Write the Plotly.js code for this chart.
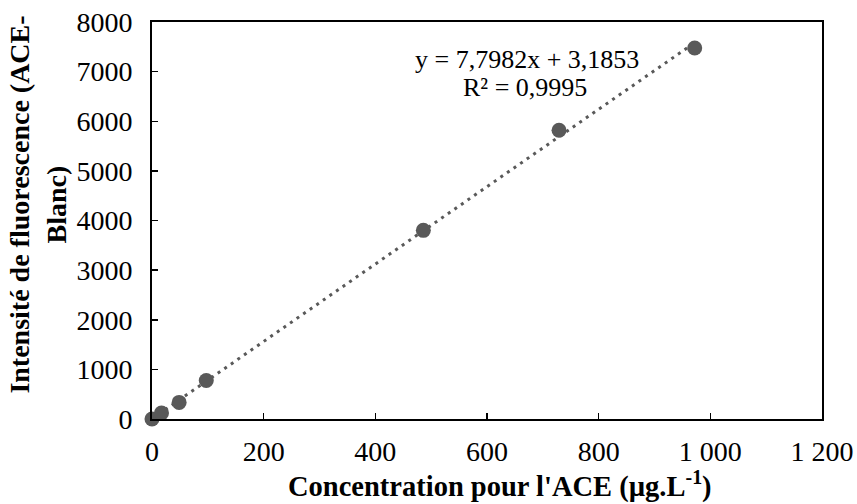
<!DOCTYPE html>
<html>
<head>
<meta charset="utf-8">
<script src="https://cdn.plot.ly/plotly-3.0.1.min.js"></script>
<style>html,body{margin:0;padding:0;background:#fff;}#chart{width:857px;height:504px;}</style>
</head>
<body>
<div id="chart"></div>
<script>
// Data
const concentration = [0, 17, 48.6, 97.2, 486, 729, 972];
const intensity = [0, 120, 335, 775, 3802, 5818, 7476];
const slope = 7.7982;
const intercept = 3.1853;
const r2Text = "R² = 0,9995";
const eqText = "y = 7,7982x + 3,1853";
const xTickVals = [0, 200, 400, 600, 800, 1000, 1200];
const xTickText = ["0", "200", "400", "600", "800", "1 000", "1 200"];
const yTickVals = [0, 1000, 2000, 3000, 4000, 5000, 6000, 7000, 8000];

const trendX = [concentration[0], concentration[concentration.length - 1]];
const trendY = trendX.map(v => slope * v + intercept);

const grey = '#595959';
const fontFam = '"Liberation Serif", "Times New Roman", serif';

const traces = [
  {x: trendX, y: trendY, mode: 'lines', type: 'scatter',
   line: {color: grey, width: 3, dash: '3px,5px'}, hoverinfo: 'skip', cliponaxis: false},
  {x: concentration, y: intensity, mode: 'markers', type: 'scatter',
   marker: {color: grey, size: 15}, cliponaxis: false}
];

const layout = {
  width: 857, height: 504,
  margin: {l: 152, r: 35, t: 22, b: 85},
  showlegend: false,
  paper_bgcolor: '#fff', plot_bgcolor: '#fff',
  font: {family: fontFam, size: 26, color: '#000'},
  xaxis: {
    range: [0, 1200], tickvals: xTickVals, ticktext: xTickText,
    ticks: 'inside', ticklen: 6, tickwidth: 1.5, tickcolor: '#000',
    showline: true, linecolor: '#000', linewidth: 2, mirror: true,
    showgrid: false, zeroline: false, ticklabelstandoff: 6,
    tickfont: {family: fontFam, size: 28, color: '#000'}
  },
  yaxis: {
    range: [0, 8000], tickvals: yTickVals,
    ticks: 'inside', ticklen: 6, tickwidth: 1.5, tickcolor: '#000',
    showline: true, linecolor: '#000', linewidth: 2, mirror: true,
    showgrid: false, zeroline: false, ticklabelstandoff: 12,
    tickfont: {family: fontFam, size: 28, color: '#000'}
  },
  annotations: [
    {xref: 'paper', yref: 'paper', x: 0.5194, y: -0.166, xanchor: 'center', yanchor: 'middle',
     showarrow: false,
     text: "<b>Concentration pour l'ACE (µg.L<sup>-1</sup>)</b>",
     font: {family: fontFam, size: 28.5, color: '#000'}},
    {xref: 'paper', yref: 'paper', x: 0, y: 0.54, xanchor: 'center', yanchor: 'middle',
     xshift: -114, textangle: -90, showarrow: false,
     text: "<b>Intensité de fluorescence (ACE-<br>Blanc)</b>",
     font: {family: fontFam, size: 28, color: '#000'}},
    {xref: 'paper', yref: 'paper', x: 0.5597, y: 0.906, xanchor: 'center', yanchor: 'middle',
     showarrow: false, text: eqText, font: {family: fontFam, size: 26, color: '#000'}},
    {xref: 'paper', yref: 'paper', x: 0.5567, y: 0.834, xanchor: 'center', yanchor: 'middle',
     showarrow: false, text: r2Text, font: {family: fontFam, size: 26, color: '#000'}}
  ]
};

Plotly.newPlot('chart', traces, layout, {displayModeBar: false, staticPlot: true});
</script>
</body>
</html>
